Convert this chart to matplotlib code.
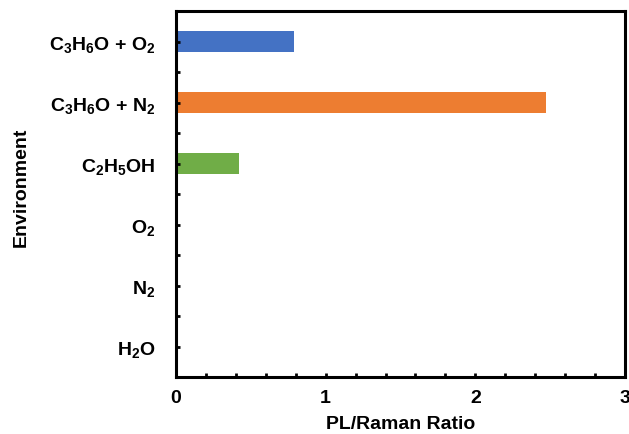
import matplotlib
matplotlib.use('Agg')
import matplotlib.pyplot as plt
from matplotlib.ticker import MultipleLocator

plt.rcParams['font.family'] = 'Liberation Sans'
plt.rcParams['font.weight'] = 'bold'
plt.rcParams['mathtext.fontset'] = 'custom'
plt.rcParams['mathtext.rm'] = 'Liberation Sans:bold'
plt.rcParams['mathtext.it'] = 'Liberation Sans:bold'
plt.rcParams['mathtext.bf'] = 'Liberation Sans:bold'

# data, bottom to top
environments = [r'H$_2$O', r'N$_2$', r'O$_2$', r'C$_2$H$_5$OH',
                r'C$_3$H$_6$O + N$_2$', r'C$_3$H$_6$O + O$_2$']
ratios = [0, 0, 0, 0.42, 2.47, 0.79]
colors = ['#4472C4', '#4472C4', '#4472C4', '#70AD47', '#ED7D31', '#4472C4']

fig = plt.figure(figsize=(6.29, 4.35), dpi=100)
ax = fig.add_axes([176/629, 1 - 378/435, (625-176)/629, (378-12)/435])

pos = list(range(len(environments)))
ax.barh(pos, ratios, height=0.33, color=colors)

fs = 14
ax.set_xlim(0, 3)
ax.set_ylim(-0.5, 5.5)
ax.set_yticks(pos)
ax.set_yticklabels(environments, fontsize=fs)
ax.yaxis.set_minor_locator(MultipleLocator(0.5))
ax.xaxis.set_major_locator(MultipleLocator(1))
ax.xaxis.set_minor_locator(MultipleLocator(0.2))
ax.tick_params(axis='both', which='both', direction='in', length=3, width=2,
               labelsize=fs)
ax.tick_params(axis='x', pad=9)
ax.tick_params(axis='y', pad=15)

for s in ax.spines.values():
    s.set_linewidth(2.2)

ax.set_xlabel('PL/Raman Ratio', fontsize=fs, fontweight='bold', labelpad=6)
ax.set_ylabel('Environment', fontsize=fs, fontweight='bold', labelpad=14)
ax.yaxis.label.set_y(0.522)

fig.savefig('out.png', dpi=100)
